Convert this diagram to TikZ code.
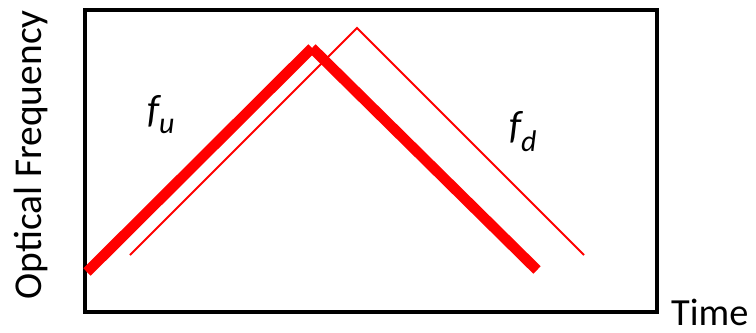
\documentclass[tikz,border=0pt]{standalone}
\usepackage{fontspec}
\setmainfont{Carlito}
\begin{document}
\begin{tikzpicture}[x=1bp,y=-1bp,
  frame/.style={draw=black,line width=4bp},
  thickchirp/.style={draw=red,line width=10.5bp,line cap=butt},
  thinchirp/.style={draw=red,line width=2bp,line cap=butt,line join=miter},
  lbl/.style={inner sep=0pt,font=\fontsize{39.6}{46}\selectfont},
  sublbl/.style={inner sep=0pt,font=\fontsize{39.6}{46}\selectfont\itshape}]
\useasboundingbox (0,0) rectangle (756,332);
\draw[frame] (85,10) rectangle (657,312);
% thick (transmitted) chirp
\coordinate (ua) at (87,272);
\coordinate (up) at (312,48);
\coordinate (ue) at (537,270);
\draw[thickchirp] (ua) -- (up);
\draw[thickchirp] (up) -- (ue);
% thin (received) chirp
\coordinate (da) at (130,255);
\coordinate (dp) at (357,28);
\coordinate (de) at (584,255);
\draw[thinchirp] (da) -- (dp) -- (de);
% labels
\node[sublbl,anchor=base west] (fu) at (147,122) {f\raisebox{-11bp}{\fontsize{30}{30}\selectfont u}};
\node[sublbl,anchor=base west] (fd) at (509,138) {f\raisebox{-13bp}{\fontsize{30}{30}\selectfont d}};
\node[lbl,anchor=base,rotate=90] (yl) at (41,155) {Optical Frequency};
\node[inner sep=0pt,font=\fontsize{38.5}{44}\selectfont,anchor=base west,text depth=0pt] (xl) at (671,325) {Time};
\end{tikzpicture}
\end{document}
